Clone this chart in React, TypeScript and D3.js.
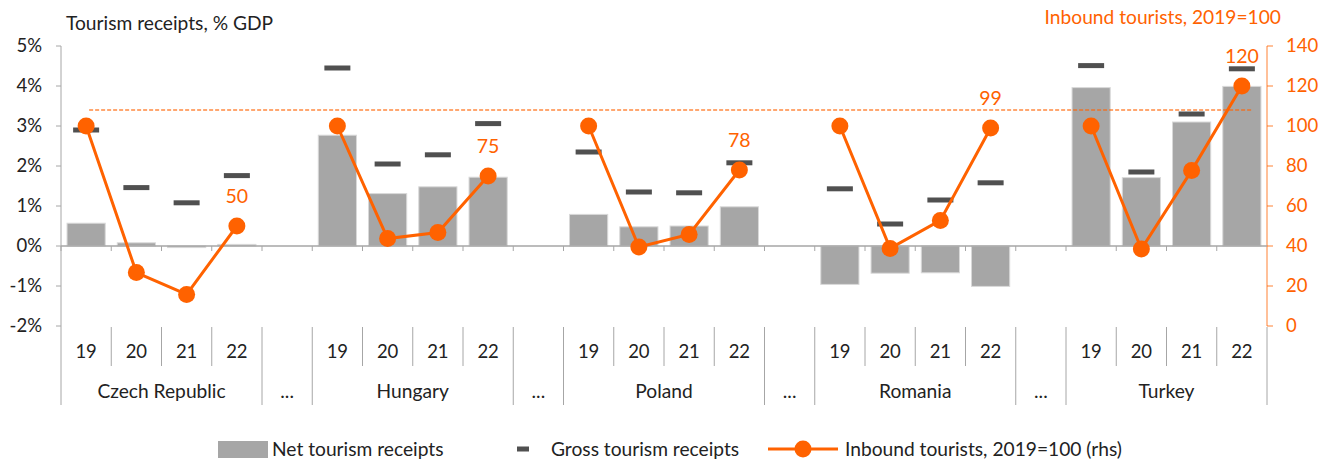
import * as d3 from "d3";

const countries = ["Czech Republic", "Hungary", "Poland", "Romania", "Turkey"];
const years = ["19", "20", "21", "22"];

// Net tourism receipts, % GDP (country by country, 2019..2022)
const netReceipts = [
  0.57, 0.08, -0.04, 0.04,
  2.77, 1.31, 1.48, 1.72,
  0.79, 0.48, 0.5, 0.98,
  -0.96, -0.68, -0.67, -1.01,
  3.96, 1.71, 3.1, 3.99,
];

// Gross tourism receipts, % GDP
const grossReceipts = [
  2.9, 1.46, 1.08, 1.76,
  4.45, 2.05, 2.28, 3.06,
  2.35, 1.35, 1.33, 2.08,
  1.43, 0.55, 1.15, 1.58,
  4.51, 1.85, 3.3, 4.43,
];

// Inbound tourists, 2019=100 (rhs)
const inbound = [
  100, 26.7, 15.8, 50,
  100, 43.7, 46.7, 75,
  100, 39.5, 45.8, 78,
  100, 38.8, 52.8, 99,
  100, 38.5, 77.7, 120,
];

const refLevel = 108;
const leftTicks = [-2, -1, 0, 1, 2, 3, 4, 5];
const rightTicks = [0, 20, 40, 60, 80, 100, 120, 140];

const W = 1319;
const H = 461;
const ORANGE = "#ff6200";
const FONT = "Lato, 'DejaVu Sans', sans-serif";
const FS = 19.2;

type Slot = { key: string; year?: string; ci: number; idx?: number };

const slots: Slot[] = [];
countries.forEach((c, ci) => {
  years.forEach((y, yi) => slots.push({ key: `${c}-${y}`, year: y, ci, idx: ci * 4 + yi }));
  if (ci < countries.length - 1) slots.push({ key: `gap-${ci}`, ci });
});

export default function App() {
  const x = d3.scaleBand<string>().domain(slots.map(s => s.key)).range([61, 1267]).padding(0);
  const bw = x.bandwidth();
  const yL = d3.scaleLinear().domain([-2, 5]).range([326, 46]);
  const yR = d3.scaleLinear().domain([0, 140]).range([326, 46]);
  const cx = (k: string) => (x(k) || 0) + bw / 2;

  const dataSlots = slots.filter(s => s.year !== undefined);
  const line = d3.line<Slot>().x(s => cx(s.key)).y(s => yR(inbound[s.idx!]));

  const axisBottom = yL(0);
  const catTop = 327;
  const yearBottom = 366;
  const groupBottom = 405;
  const legY = 449;

  // group boundaries (start of each group and gap slot, plus the end)
  const boundaries: number[] = [];
  slots.forEach((s, i) => {
    const prev = slots[i - 1];
    if (i === 0 || s.year === undefined || prev.year === undefined) boundaries.push(x(s.key) || 0);
  });
  boundaries.push(1267);

  const refStart = cx(slots[0].key) + 3;
  const refEnd = cx(slots[slots.length - 1].key) + 10;

  return (
    <svg width={W} height={H} style={{ position: "absolute", left: 0, top: 0, background: "#fff" }} fontFamily={FONT}>
      {/* titles */}
      <text x={66} y={30} fontSize={FS} fill="#222">Tourism receipts, % GDP</text>
      <text x={1281} y={24} fontSize={FS} fill={ORANGE} textAnchor="end">Inbound tourists, 2019=100</text>

      {/* left axis */}
      <line x1={61} x2={61} y1={46} y2={groupBottom} stroke="#a6a6a6" />
      {leftTicks.map(t => (
        <g key={t}>
          <line x1={56} x2={61} y1={yL(t)} y2={yL(t)} stroke="#a6a6a6" />
          <text x={42} y={yL(t)} dy="0.35em" fontSize={18.5} fill="#222" textAnchor="end">{`${t}%`}</text>
        </g>
      ))}

      {/* right axis */}
      <line x1={1267} x2={1267} y1={46} y2={326} stroke={ORANGE} strokeOpacity={0.8} />
      <line x1={1267} x2={1267} y1={catTop} y2={groupBottom} stroke="#a6a6a6" />
      {rightTicks.map(t => (
        <g key={t}>
          <line x1={1267} x2={1273} y1={yR(t)} y2={yR(t)} stroke={ORANGE} strokeOpacity={0.8} />
          <text x={1286} y={yR(t)} dy="0.35em" fontSize={18.5} fill={ORANGE}>{t}</text>
        </g>
      ))}

      {/* net bars */}
      {dataSlots.map(s => {
        const v = netReceipts[s.idx!];
        const w = bw * 0.76;
        return (
          <rect key={`b-${s.key}`} x={cx(s.key) - w / 2} width={w}
            y={Math.min(yL(v), yL(0))} height={Math.max(Math.abs(yL(v) - yL(0)), 1)}
            fill="#a6a6a6" stroke="#d9d9d9" strokeWidth={1} />
        );
      })}

      {/* zero axis */}
      <line x1={61} x2={1267} y1={axisBottom} y2={axisBottom} stroke="#a6a6a6" strokeWidth={1.5} />
      {slots.map(s => (
        <line key={`t-${s.key}`} x1={x(s.key)} x2={x(s.key)} y1={axisBottom} y2={axisBottom + 5} stroke="#a6a6a6" />
      ))}

      {/* reference dashed line */}
      <line x1={refStart} x2={refEnd} y1={yR(refLevel)} y2={yR(refLevel)} stroke={ORANGE} strokeOpacity={0.75} strokeWidth={1.5} strokeDasharray="4 2" />

      {/* gross markers */}
      {dataSlots.map(s => (
        <rect key={`g-${s.key}`} x={cx(s.key) - 13} width={26} y={yL(grossReceipts[s.idx!]) - 2.5} height={5} fill="#505050" />
      ))}

      {/* inbound line */}
      {countries.map((c, ci) => {
        const pts = dataSlots.filter(s => s.ci === ci);
        const last = pts[pts.length - 1];
        return (
          <g key={c}>
            <path d={line(pts) || ""} fill="none" stroke={ORANGE} strokeWidth={3} />
            {pts.map(s => (
              <circle key={s.key} cx={cx(s.key)} cy={yR(inbound[s.idx!])} r={8.5} fill={ORANGE} />
            ))}
            <text x={cx(last.key)} y={yR(inbound[last.idx!]) - 23} fontSize={19.5} fill={ORANGE} textAnchor="middle">
              {Math.round(inbound[last.idx!])}
            </text>
          </g>
        );
      })}

      {/* category axis */}
      {slots.map((s, i) => {
        const xs = x(s.key) || 0;
        const isBoundary = boundaries.includes(xs);
        return i === 0 ? null : (
          <line key={`s-${s.key}`} x1={xs} x2={xs} y1={catTop} y2={isBoundary ? groupBottom : yearBottom} stroke="#a6a6a6" />
        );
      })}
      {dataSlots.map(s => (
        <text key={`y-${s.key}`} x={cx(s.key)} y={352} dy="0.35em" fontSize={18.5} fill="#222" textAnchor="middle">{s.year}</text>
      ))}
      {countries.map((c, ci) => {
        const pts = dataSlots.filter(s => s.ci === ci);
        const mid = ((x(pts[0].key) || 0) + (x(pts[3].key) || 0) + bw) / 2;
        return (
          <text key={`c-${c}`} x={mid} y={391} dy="0.35em" fontSize={FS} fill="#222" textAnchor="middle">{c}</text>
        );
      })}
      {slots.filter(s => s.year === undefined).map(s => (
        <text key={`d-${s.key}`} x={cx(s.key)} y={391} dy="0.35em" fontSize={FS} fill="#222" textAnchor="middle">...</text>
      ))}

      {/* legend */}
      <rect x={218} y={legY - 8} width={50} height={17} fill="#a6a6a6" />
      <text x={272} y={legY} dy="0.35em" fontSize={FS} fill="#222">Net tourism receipts</text>
      <rect x={517} y={legY - 2.5} width={12} height={5} fill="#505050" />
      <text x={551} y={legY} dy="0.35em" fontSize={FS} fill="#222">Gross tourism receipts</text>
      <line x1={768} x2={838} y1={legY} y2={legY} stroke={ORANGE} strokeWidth={3} />
      <circle cx={803} cy={legY} r={8.5} fill={ORANGE} />
      <text x={845} y={legY} dy="0.35em" fontSize={FS} fill="#222">Inbound tourists, 2019=100 (rhs)</text>
    </svg>
  );
}
